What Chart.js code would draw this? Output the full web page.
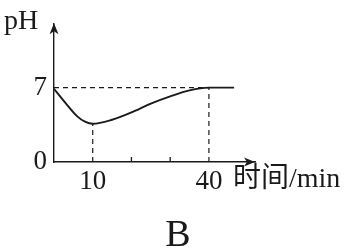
<!DOCTYPE html>
<html>
<head>
<meta charset="utf-8">
<script src="https://cdn.jsdelivr.net/npm/chart.js@4/dist/chart.umd.min.js"></script>
<style>
  html, body { margin: 0; padding: 0; background: #fff; }
  #wrap { width: 349px; height: 250px; }
</style>
</head>
<body>
<div id="wrap"><canvas id="phChart"></canvas></div>
<script>
// values
var times    = [0,   3,    6,   8,   10,  15,   20,   25,  30,   35,   40,  46.5];
var phValues = [6.9, 5.55, 4.3, 3.8, 3.6, 3.98, 4.67, 5.5, 6.18, 6.75, 7,   7];
var xTickValues = [10, 40];
var xMinorTicks = [20, 30];
var yTickValues = [0, 7];
var xMax = 51.9, yMax = 13.07;

var ink = '#1a1a1a';
var serif = "'Liberation Serif', 'DejaVu Serif', 'Noto Sans CJK SC', serif";

var curve = times.map(function (t, i) { return { x: t, y: phValues[i] }; });
var lowPt = curve[times.indexOf(10)];
var eqPt = curve[times.indexOf(40)];

var guides = [
    [{ x: 0, y: eqPt.y }, { x: eqPt.x, y: eqPt.y }],
    [{ x: lowPt.x, y: 0 }, { x: lowPt.x, y: lowPt.y }],
    [{ x: eqPt.x, y: 0 }, { x: eqPt.x, y: eqPt.y }]
];

var datasets = [{
    data: curve,
    showLine: true,
    borderColor: ink,
    borderWidth: 1.9,
    pointRadius: 0,
    cubicInterpolationMode: 'monotone'
}];
guides.forEach(function (g) {
    datasets.push({
        data: g,
        showLine: true,
        borderColor: ink,
        borderWidth: 1.2,
        borderDash: [5, 4],
        pointRadius: 0
    });
});

// arrows, small ticks and free texts
var extras = {
    id: 'extras',
    afterDraw: function (chart) {
        var ctx = chart.ctx, a = chart.chartArea;
        var xs = chart.scales.x;
        ctx.save();
        ctx.fillStyle = ink;
        ctx.strokeStyle = ink;
        ctx.lineWidth = 1.3;

        // x arrow
        ctx.beginPath();
        ctx.moveTo(a.right, a.bottom);
        ctx.lineTo(a.right - 11, a.bottom - 4.5);
        ctx.lineTo(a.right - 8, a.bottom);
        ctx.lineTo(a.right - 11, a.bottom + 4.5);
        ctx.closePath();
        ctx.fill();
        // y arrow
        ctx.beginPath();
        ctx.moveTo(a.left, a.top);
        ctx.lineTo(a.left - 4.5, a.top + 11);
        ctx.lineTo(a.left, a.top + 8);
        ctx.lineTo(a.left + 4.5, a.top + 11);
        ctx.closePath();
        ctx.fill();

        // small inner ticks
        xMinorTicks.forEach(function (v) {
            var px = xs.getPixelForValue(v);
            ctx.beginPath();
            ctx.moveTo(px, a.bottom);
            ctx.lineTo(px, a.bottom - 5);
            ctx.stroke();
        });

        ctx.textAlign = 'left';
        ctx.textBaseline = 'alphabetic';
        ctx.font = '28px ' + serif;
        ctx.fillText('pH', 4, 29);

        ctx.textBaseline = 'middle';
        ctx.font = '28px ' + serif;
        ctx.fillText('时间/min', 233, 180);

        ctx.textAlign = 'center';
        ctx.textBaseline = 'alphabetic';
        ctx.font = '38px ' + serif;
        ctx.fillText('B', 178, 246);
        ctx.restore();
    }
};

new Chart(document.getElementById('phChart').getContext('2d'), {
    type: 'scatter',
    data: { datasets: datasets },
    options: {
        responsive: true,
        maintainAspectRatio: false,
        animation: false,
        layout: { padding: { left: 0, top: 7, right: 94, bottom: 0 } },
        plugins: { legend: { display: false }, tooltip: { enabled: false } },
        scales: {
            x: {
                type: 'linear',
                min: 0,
                max: xMax,
                afterFit: function (s) { s.height = 88; },
                afterBuildTicks: function (s) {
                    s.ticks = xTickValues.map(function (v) { return { value: v }; });
                },
                grid: { display: false, drawTicks: false },
                border: { display: true, color: ink, width: 1.4 },
                ticks: {
                    color: ink,
                    padding: 4,
                    maxRotation: 0,
                    font: { family: serif, size: 27 }
                }
            },
            y: {
                type: 'linear',
                min: 0,
                max: yMax,
                afterFit: function (s) { s.width = 54; },
                afterBuildTicks: function (s) {
                    s.ticks = yTickValues.map(function (v) { return { value: v }; });
                },
                grid: { display: false, drawTicks: false },
                border: { display: true, color: ink, width: 1.4 },
                ticks: {
                    color: ink,
                    padding: 7,
                    font: { family: serif, size: 27 }
                }
            }
        }
    },
    plugins: [extras]
});
</script>
</body>
</html>
